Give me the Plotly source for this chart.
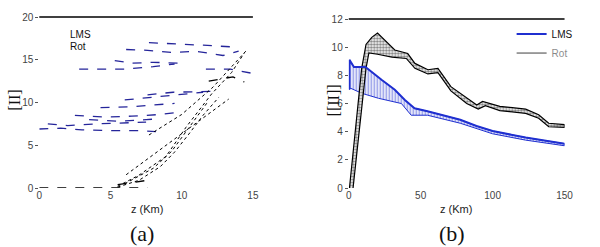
import plotly.graph_objects as go

# ---- panel (a): scattered dashed LMS lines (blue) and dotted Rot curves (black)
a_lms_x = [
    [0, 1.5, 3, 5, 7, 8.2],
    [0.6, 2, 4, 6, 7.5],
    [3.5, 5.5, 7.5, 8.5],
    [2.5, 4.5, 6.5, 8.5, 9.5],
    [4.3, 6.5, 9.5],
    [6, 8, 10.3, 11.5],
    [7.6, 9.4, 12.1],
    [2.8, 4, 6, 8, 9.5],
    [5.3, 6.5, 8, 10],
    [6.1, 7.6, 9.4, 11, 12.9, 14],
    [7.7, 9.4, 11.5, 13.6],
    [11.7, 13.4, 15],
]
a_lms_y = [
    [6.9, 7.0, 6.8, 6.7, 6.7, 6.6],
    [7.5, 7.3, 7.5, 7.6, 7.7],
    [8.0, 7.8, 8.0, 8.1],
    [8.5, 8.3, 8.4, 8.6, 8.8],
    [9.4, 9.5, 9.9],
    [10.3, 10.6, 11.0, 11.2],
    [10.9, 11.2, 11.3],
    [13.9, 13.9, 13.9, 14.2, 14.5],
    [14.9, 14.6, 14.7, 14.6],
    [16.2, 16.1, 15.85, 16.0, 15.5, 16.0],
    [17.0, 16.9, 16.7, 16.5],
    [13.9, 13.9, 13.4],
]
a_rot_x = [
    [5.5, 7, 8.9, 10.3, 12.1, 13.5, 14.4],
    [5.5, 7, 8.5, 9.5, 10.5, 11.5, 12.6],
    [6, 8, 9.3, 10.5, 11.8],
    [6.1, 13.3],
    [7.7, 10, 12.2, 14.5],
]
a_rot_y = [
    [0.2, 1.5, 3.7, 7.1, 11.0, 13.5, 15.8],
    [0.1, 0.9, 2.5, 4.2, 6.3, 8.5, 10.6],
    [0.5, 2.3, 4.3, 7.0, 10.0],
    [1.55, 10.4],
    [6.2, 8.6, 11.8, 16.0],
]
a_rot_dash_x = [[0, 7.6], [5.5, 7.6], [11.9, 13.6, 14.4]]
a_rot_dash_y = [[0, 0], [0.4, 0.9], [12.5, 13.0, 12.4]]

# ---- panel (b): bands of LMS and Rot curves (upper / lower edges)
b_rot_up_x = [0.5, 3, 6, 9, 12, 16, 20, 32, 41, 46, 55, 62, 71, 82, 89, 93, 105, 123, 132, 139, 150]
b_rot_up_y = [0, 2.5, 5.5, 8.5, 10.2, 10.7, 11.0, 9.8, 9.55, 8.85, 8.4, 8.5, 7.2, 6.4, 5.9, 6.15, 5.8, 5.6, 5.2, 4.6, 4.5]
b_rot_lo_x = [3, 6, 9, 12, 14, 20, 30, 40, 46, 55, 62, 71, 82, 90, 95, 105, 123, 132, 139, 150]
b_rot_lo_y = [0, 2.5, 5.5, 8.5, 9.6, 9.5, 9.3, 9.2, 8.5, 8.1, 8.2, 6.9, 6.0, 5.6, 5.85, 5.5, 5.3, 4.95, 4.35, 4.3]

b_lms_up_x = [0.5, 0.5, 3.6, 11.6, 23, 32, 39, 45.7, 54.7, 77.5, 88.8, 100, 123, 150]
b_lms_up_y = [7.0, 9.1, 8.6, 8.6, 7.67, 6.98, 6.25, 5.66, 5.45, 4.85, 4.4, 4.05, 3.58, 3.15]
b_lms_lo_x = [0.5, 1.4, 9.3, 20.7, 36.6, 43.4, 54.7, 77.5, 100, 123, 150]
b_lms_lo_y = [7.0, 7.08, 6.72, 6.37, 6.0, 5.17, 5.17, 4.6, 3.85, 3.4, 3.0]

BLUE_A = "#25259a"
BLUE_B = "#1f2fd0"
SANS = "Liberation Sans, Arial"
SERIF = "Liberation Serif, Times New Roman"
TICK_FONT = dict(family=SANS, size=10, color="#444")

fig = go.Figure()

for xs, ys in zip(a_lms_x, a_lms_y):
    fig.add_trace(go.Scatter(x=xs, y=ys, mode="lines", showlegend=False,
                             line=dict(color=BLUE_A, width=1.3, dash="dash"),
                             xaxis="x", yaxis="y"))
for xs, ys in zip(a_rot_x, a_rot_y):
    fig.add_trace(go.Scatter(x=xs, y=ys, mode="lines", showlegend=False,
                             line=dict(color="black", width=1, dash="dot"),
                             xaxis="x", yaxis="y"))
for xs, ys in zip(a_rot_dash_x, a_rot_dash_y):
    fig.add_trace(go.Scatter(x=xs, y=ys, mode="lines", showlegend=False,
                             line=dict(color="black", width=1.3, dash="dash"),
                             xaxis="x", yaxis="y"))

# panel (b) bands: polygon from upper edge + reversed lower edge
fig.add_trace(go.Scatter(
    x=b_lms_up_x + b_lms_lo_x[::-1], y=b_lms_up_y + b_lms_lo_y[::-1],
    mode="lines", fill="toself", showlegend=False,
    line=dict(color=BLUE_B, width=1),
    fillcolor="rgba(0,0,0,0)",
    fillpattern=dict(shape="|", fgcolor=BLUE_B, bgcolor="white", size=3, solidity=0.5),
    xaxis="x2", yaxis="y2"))
fig.add_trace(go.Scatter(
    x=b_rot_up_x + b_rot_lo_x[::-1], y=b_rot_up_y + b_rot_lo_y[::-1],
    mode="lines", fill="toself", showlegend=False,
    line=dict(color="black", width=1.2),
    fillcolor="rgba(0,0,0,0)",
    fillpattern=dict(shape=".", fgcolor="black", bgcolor="white", size=3, solidity=0.5),
    xaxis="x2", yaxis="y2"))
fig.add_trace(go.Scatter(x=b_lms_up_x, y=b_lms_up_y, mode="lines", name="LMS",
                         line=dict(color=BLUE_B, width=2), xaxis="x2", yaxis="y2"))
fig.add_trace(go.Scatter(x=b_rot_lo_x, y=b_rot_lo_y, mode="lines", name="Rot",
                         visible="legendonly",
                         line=dict(color="black", width=1.5), xaxis="x2", yaxis="y2"))

y_common = dict(showgrid=False, zeroline=False, showline=False, ticks="outside",
                ticklen=3, tickcolor="#555", tickfont=TICK_FONT)
x_common = dict(showgrid=False, zeroline=False, showline=False, ticks="",
                tickfont=TICK_FONT)

fig.update_layout(
    width=600, height=247,
    margin=dict(l=0, r=0, t=17, b=59),
    paper_bgcolor="white", plot_bgcolor="white",
    xaxis=dict(domain=[0.0617, 0.425], range=[0, 15], tickvals=[0, 5, 10, 15],
               anchor="y", **x_common),
    yaxis=dict(domain=[0, 1], range=[0, 20], tickvals=[0, 5, 10, 15, 20],
               anchor="x", **y_common),
    xaxis2=dict(domain=[0.588, 0.955], range=[0, 150], tickvals=[0, 50, 100, 150],
                anchor="y2", **x_common),
    yaxis2=dict(domain=[0, 0.988], range=[0, 12], tickvals=[0, 2, 4, 6, 8, 10, 12],
                anchor="x2", **y_common),
    legend=dict(x=0.865, y=0.985, xanchor="left", yanchor="top",
                bgcolor="rgba(0,0,0,0)", font=dict(family=SANS, size=10, color="#111"),
                tracegroupgap=0, itemwidth=30),
    shapes=[
        dict(type="line", xref="x domain", yref="y domain", x0=0, x1=1, y0=1, y1=1,
             line=dict(color="black", width=1.5)),
        dict(type="line", xref="x2 domain", yref="y2 domain", x0=0, x1=1, y0=1, y1=1,
             line=dict(color="black", width=1.5)),
    ],
    annotations=[
        dict(text="LMS", xref="paper", yref="paper", x=0.11, y=0.94, showarrow=False,
             xanchor="left", font=dict(family=SANS, size=10, color="#111")),
        dict(text="Rot", xref="paper", yref="paper", x=0.11, y=0.87, showarrow=False,
             xanchor="left", font=dict(family=SANS, size=10, color="#111")),
        dict(text="z (Km)", xref="paper", yref="paper", x=0.245, y=-0.17, showarrow=False,
             xanchor="center", font=dict(family=SANS, size=11, color="#222")),
        dict(text="z (Km)", xref="paper", yref="paper", x=0.77, y=-0.17, showarrow=False,
             xanchor="center", font=dict(family=SANS, size=11, color="#222")),
        dict(text="[II]", xref="paper", yref="paper", x=0.02, y=0.515, showarrow=False,
             xanchor="center", textangle=-90, font=dict(family=SERIF, size=16, color="#111")),
        dict(text="[[II]]", xref="paper", yref="paper", x=0.562, y=0.515, showarrow=False,
             xanchor="center", textangle=-90, font=dict(family=SERIF, size=16, color="#111")),
        dict(text="(a)", xref="paper", yref="paper", x=0.237, y=-0.269, showarrow=False,
             xanchor="center", yanchor="middle", font=dict(family=SERIF, size=22, color="#111")),
        dict(text="(b)", xref="paper", yref="paper", x=0.763, y=-0.269, showarrow=False,
             xanchor="center", yanchor="middle", font=dict(family=SERIF, size=22, color="#111")),
    ],
)

fig.write_html("out.html", config={"displayModeBar": False},
               post_script="document.body.style.margin='0';")
